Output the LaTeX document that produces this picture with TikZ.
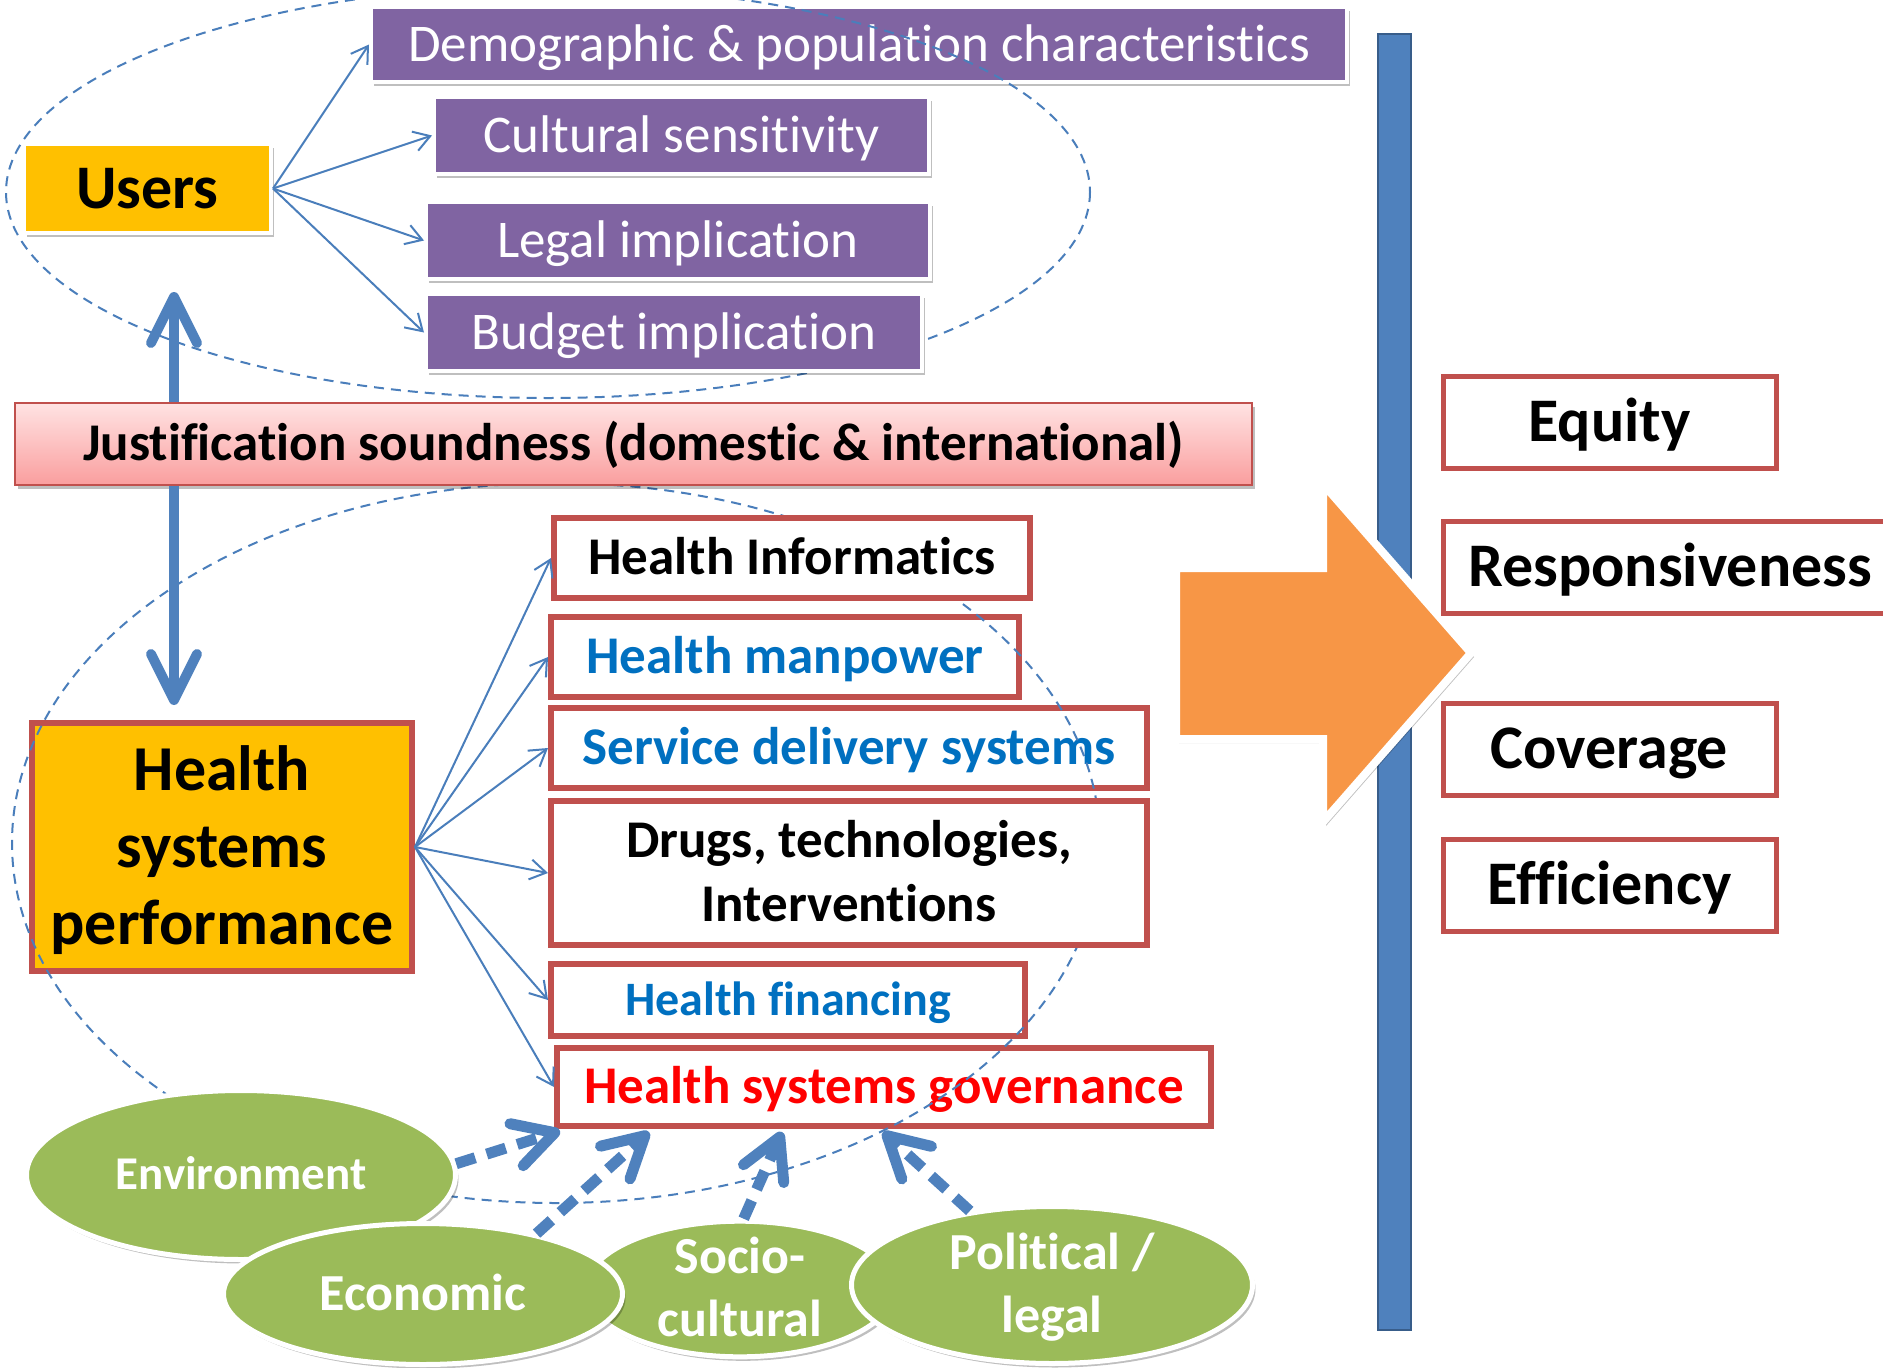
\documentclass[tikz,border=0pt]{standalone}
\usepackage{fontspec}
\setmainfont{Carlito}[Ligatures=NoCommon]
\usetikzlibrary{arrows.meta,shapes.geometric,shadows,calc}
\definecolor{purp}{HTML}{8064A2}
\definecolor{gold}{HTML}{FFC000}
\definecolor{redb}{HTML}{C0504D}
\definecolor{lblue}{HTML}{4A7EBB}
\definecolor{abl}{HTML}{4F81BD}
\definecolor{bard}{HTML}{385D8A}
\definecolor{tblue}{HTML}{0070C0}
\definecolor{grn}{HTML}{9BBB59}
\definecolor{orng}{HTML}{F79646}
\definecolor{pinkt}{HTML}{FFE3E3}
\definecolor{pinkb}{HTML}{FA9E9E}
\newcommand\fsz[2]{\fontsize{#1pt}{#2pt}\selectfont}
\begin{document}
\begin{tikzpicture}[x=1pt,y=-1pt,
 shad/.style={drop shadow={shadow xshift=3pt,shadow yshift=-4pt,opacity=0.25,fill=black}},
 purpbox/.style={rectangle,fill=purp,draw=white,line width=4pt,text=white,inner sep=0pt,font=\fsz{53}{64},text height=33.5pt,text depth=0pt,shad},
 compbox/.style={rectangle,fill=white,draw=redb,line width=6pt,inner sep=0pt,font=\bfseries\fsz{53}{64},text height=33.5pt,text depth=0pt},
 outbox/.style={rectangle,fill=white,draw=redb,line width=5pt,inner sep=0pt,minimum width=333pt,minimum height=92pt,font=\bfseries\fsz{62}{74},text height=39.2pt,text depth=0pt},
 grell/.style={ellipse,fill=grn,draw=white,line width=5pt,text=white,inner sep=0pt,align=center,font=\bfseries\fsz{52}{63},shad},
 thinarr/.style={draw=lblue,line width=2pt,-{Straight Barb[length=16pt,width=20pt]}},
 thickarr/.style={draw=abl,line width=10pt,-{Straight Barb[length=46pt,width=46pt,round]}},
 dasharr/.style={draw=abl,line width=11pt,dash pattern=on 20pt off 12pt,-{Straight Barb[length=40pt,width=44pt,round]}},
 dashell/.style={draw=lblue,line width=2pt,dash pattern=on 10pt off 7pt},
]
\useasboundingbox (0,0) rectangle (1883,1368);

% vertical bar
\path[fill=abl,draw=bard,line width=2.5pt] (1378,34) rectangle (1411,1330);

% users side
\node[purpbox,minimum width=976pt,minimum height=75pt] (demo) at (859,44.5) {Demographic \& population characteristics};
\draw[dashell] (548,192) ellipse [x radius=542, y radius=206];
\node[purpbox,minimum width=495pt,minimum height=77pt] (cult) at (681.5,135.5) {Cultural sensitivity};
\node[purpbox,minimum width=504pt,minimum height=77pt] (legal) at (678,240.5) {Legal implication};
\node[purpbox,minimum width=496pt,minimum height=77pt] (budget) at (674,332.5) {Budget implication};
\node[rectangle,fill=gold,draw=white,line width=4pt,inner sep=0pt,minimum width=247pt,minimum height=89pt,font=\bfseries\fsz{62}{74},text height=39.2pt,text depth=0pt,shad] (users) at (147.5,188.5) {Users};

% health system components
\node[rectangle,fill=gold,draw=redb,line width=6pt,inner sep=0pt,minimum width=380pt,minimum height=248pt,align=center,font=\bfseries\fsz{64}{77},text height=194.4pt,text depth=0pt] (hsp) at (222,847) {Health\\systems\\performance};
\node[compbox,minimum width=468pt,minimum height=80pt,text=tblue] (hm) at (785,657) {Health manpower};
\node[compbox,minimum width=596pt,minimum height=80pt,text=tblue] (sd) at (849,748) {Service delivery systems};
\node[compbox,minimum width=474pt,minimum height=72pt,text=tblue,font=\bfseries\fsz{48}{58},text height=30.3pt] (hf) at (788,1000) {Health financing};
\node[compbox,minimum width=654pt,minimum height=78pt,text=red] (gov) at (884,1087) {Health systems governance};
\draw[dashell] (556,843) ellipse [x radius=544, y radius=360];
\node[compbox,minimum width=476pt,minimum height=80pt] (hi) at (792,558) {Health Informatics};
\node[compbox,minimum width=596pt,minimum height=144pt,align=center,text height=97.5pt,text depth=0pt] (drugs) at (849,873) {Drugs, technologies,\\Interventions};

\node[rectangle,top color=pinkt,bottom color=pinkb,draw=redb,line width=2.5pt,inner sep=0pt,minimum width=1237pt,minimum height=82pt,font=\bfseries\fsz{53}{64},text height=33.5pt,text depth=0pt,shad] (just) at (633.5,444) {Justification soundness (domestic \& international)};

% thin arrows
\foreach \t in {demo,cult,legal,budget} \draw[thinarr] (users.east) -- (\t.west);
\foreach \t in {hi,hm,sd,drugs,hf,gov} \draw[thinarr] (hsp.east) -- (\t.west);

% thick arrows
\coordinate (uptip) at (174,292);
\coordinate (dntip) at (174,705);
\draw[thickarr] (uptip |- just.north) -- (uptip);
\draw[thickarr] (dntip |- just.south) -- (dntip);

% orange arrow
\path[fill=orng,draw=white,line width=8pt,shad] (1176,568) -- (1323,568) -- (1323,484) -- (1471,653) -- (1323,822) -- (1323,739) -- (1176,739) -- cycle;

% outcome boxes
\node[outbox] (equity) at (1609.5,422) {Equity};
\node[outbox,minimum width=454pt] (resp) at (1670,567) {Responsiveness};
\node[outbox] (cov) at (1609.5,749) {Coverage};
\node[outbox] (eff) at (1609.5,885) {Efficiency};

% context ellipses
\node[grell,minimum width=429pt,minimum height=169pt,font=\bfseries\fsz{47}{57},text height=29.7pt,text depth=0pt] (env) at (241,1175) {Environment};
\node[grell,minimum width=309pt,minimum height=133pt,text height=95.9pt,text depth=0pt] (socio) at (740,1289) {Socio-\\cultural};
\node[grell,minimum width=399pt,minimum height=141pt,text height=32.9pt,text depth=0pt] (econ) at (423,1294) {Economic};
\node[grell,minimum width=401pt,minimum height=157pt,text height=95.9pt,text depth=0pt] (pol) at (1052,1285) {Political /\\legal};

\draw[dasharr] (env.3) -- ($(gov.south west)+(6,2)$);
\draw[dasharr] (econ.28) -- ($(gov.south west)+(95,3)$);
\draw[dasharr] (socio.87) -- ($(gov.south west)+(228,3)$);
\draw[dasharr] (pol.138) -- ($(gov.south west)+(329,3)$);
\end{tikzpicture}
\end{document}
